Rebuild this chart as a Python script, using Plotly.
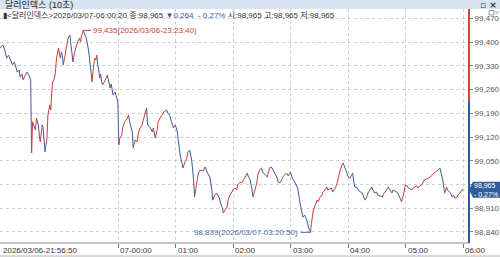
import plotly.graph_objects as go
import pandas as pd

# ---------------- data ----------------
start_time = "2026-03-06 21:56:50"
minutes = [0, 3, 5, 7, 9, 13, 15, 18, 20, 21, 23, 24, 26, 28, 30, 31, 32, 33, 34, 37, 38, 40, 41, 42, 44, 45, 46, 47, 48, 49,
           50, 52, 53, 54, 55, 57, 58, 59, 61, 63, 64, 65, 66, 67, 68, 69, 70, 71, 73, 74, 75, 76, 77, 78, 79, 80, 81, 83, 84, 85,
           86.8333, 88, 90, 92, 93, 94, 95, 96, 97, 98, 99, 100, 101, 102, 103, 104, 105, 106, 107, 110, 112, 113, 115, 116, 118,
           120, 122, 123, 124, 125, 127, 128, 130, 133, 134, 136, 138, 139, 141, 143, 144, 146, 148, 149, 151, 153, 154, 157, 159,
           160, 162, 164, 165, 167, 169, 171, 174, 175, 177, 179, 181, 183, 185, 186, 188, 191, 193, 195, 196, 198, 199, 200, 202,
           203, 205, 207, 209, 212, 214, 216, 219, 221, 222, 224, 226, 229, 230, 232, 233, 235, 237, 238, 240, 242, 243, 245, 247,
           248, 250, 253, 254, 256, 258, 259, 261, 263, 264, 266, 268, 269, 271, 273, 274, 277, 279, 280, 282, 284, 285, 287, 289,
           290, 292, 294, 295, 297, 299, 301, 303, 305, 306, 308, 310, 311, 313, 315, 316, 318, 320, 321, 322, 323, 324, 325, 327,
           329, 331, 332, 334, 336, 337, 339, 341, 342, 344, 346, 347, 350, 352, 353, 355, 357, 358, 360, 362, 363, 365, 367, 368,
           370, 373, 374, 376, 378, 380, 381, 383, 384, 386, 388, 389, 391, 393, 394, 397, 399, 400, 402, 404, 405, 407, 409, 410,
           412, 414, 415, 417, 419, 421, 423, 425, 426, 428, 430, 431, 433, 435, 436, 438, 440, 441, 443, 446, 447, 449, 451, 452,
           454, 456, 457, 459, 460, 462, 464, 466, 467, 470, 472, 473, 475, 477, 478, 480, 482, 483.5]
prices = [99.383, 99.392, 99.377, 99.353, 99.362, 99.333, 99.342, 99.312, 99.318, 99.297, 99.306, 99.289, 99.300, 99.312, 99.303,
          99.297, 99.289, 99.073, 99.165, 99.141, 99.176, 99.156, 99.126, 99.106, 99.156, 99.147, 99.112, 99.076, 99.097, 99.117,
          99.185, 99.215, 99.200, 99.253, 99.283, 99.294, 99.318, 99.353, 99.383, 99.353, 99.371, 99.362, 99.333, 99.348, 99.362,
          99.383, 99.392, 99.412, 99.421, 99.392, 99.371, 99.342, 99.356, 99.371, 99.383, 99.392, 99.401, 99.412, 99.401, 99.418,
          99.435, 99.427, 99.412, 99.383, 99.362, 99.333, 99.312, 99.283, 99.312, 99.336, 99.353, 99.348, 99.362, 99.333, 99.318,
          99.294, 99.306, 99.283, 99.274, 99.289, 99.303, 99.289, 99.265, 99.277, 99.244, 99.253, 99.235, 99.224, 99.097, 99.117,
          99.126, 99.147, 99.165, 99.176, 99.185, 99.156, 99.135, 99.088, 99.112, 99.106, 99.126, 99.147, 99.153, 99.165, 99.185,
          99.206, 99.156, 99.147, 99.135, 99.147, 99.117, 99.141, 99.165, 99.176, 99.185, 99.194, 99.200, 99.191, 99.185, 99.165,
          99.147, 99.156, 99.135, 99.112, 99.067, 99.029, 99.047, 99.058, 99.076, 99.082, 99.067, 99.053, 98.994, 98.943, 98.979,
          99.014, 99.023, 99.020, 99.032, 99.017, 99.002, 98.964, 98.934, 98.949, 98.955, 98.940, 98.926, 98.911, 98.896, 98.905,
          98.914, 98.934, 98.949, 98.958, 98.964, 98.970, 98.964, 98.979, 98.985, 98.988, 98.994, 99.002, 99.014, 99.005, 98.994,
          98.964, 98.943, 98.964, 98.985, 99.008, 99.023, 99.029, 99.017, 99.008, 99.002, 99.017, 99.032, 99.029, 99.023, 99.011,
          99.002, 98.988, 98.985, 98.994, 99.002, 99.008, 99.014, 99.005, 99.017, 98.999, 98.994, 98.985, 98.973, 98.964, 98.926,
          98.899, 98.884, 98.890, 98.875, 98.866, 98.852, 98.845, 98.839, 98.866, 98.905, 98.920, 98.934, 98.929, 98.943, 98.949,
          98.958, 98.964, 98.973, 98.964, 98.967, 98.970, 98.958, 98.970, 98.985, 98.999, 99.023, 99.038, 99.044, 99.029, 99.014,
          99.005, 98.999, 99.008, 99.014, 98.973, 98.970, 98.964, 98.958, 98.955, 98.940, 98.934, 98.946, 98.955, 98.964, 98.973,
          98.964, 98.955, 98.958, 98.949, 98.946, 98.943, 98.952, 98.958, 98.967, 98.973, 98.964, 98.955, 98.964, 98.961, 98.958,
          98.955, 98.943, 98.929, 98.949, 98.979, 98.976, 98.970, 98.967, 98.964, 98.970, 98.973, 98.976, 98.970, 98.976, 98.979,
          98.985, 98.994, 98.997, 98.999, 99.002, 99.008, 99.011, 99.017, 99.020, 99.023, 99.029, 99.017, 98.994, 98.955, 98.973,
          98.964, 98.955, 98.943, 98.949, 98.940, 98.943, 98.949, 98.955, 98.964, 98.965]
prev_close = 99.229
y_ticks = [98.840, 98.910, 98.980, 99.050, 99.120, 99.190, 99.260, 99.330, 99.400, 99.470]
y_tick_labels = ["98,840", "98,910", "", "99,050", "99,120", "99,190", "99,260", "99,330", "99,400", "99,470"]
x_tick_times = ["2026-03-07 00:00:00", "2026-03-07 01:00:00", "2026-03-07 02:00:00", "2026-03-07 03:00:00",
                "2026-03-07 04:00:00", "2026-03-07 05:00:00", "2026-03-07 06:00:00"]
x_tick_labels = ["07-00:00", "01:00", "02:00", "03:00", "04:00", "05:00", "06:00"]
first_label = "2026/03/06-21:56:50"
title_text = "달러인덱스 (10초)"
name_text = "달러인덱스"
x_end = "2026-03-07 06:06:14"

# ---------------- build ----------------
W, H = 500, 257
t0 = pd.Timestamp(start_time)
times = (t0 + pd.to_timedelta(minutes, unit="min")).round("10s")

RED = "#cf3b3b"
BLUE = "#3b5b9c"

up_x, up_y, dn_x, dn_y = [], [], [], []
for i in range(1, len(prices)):
    if prices[i] >= prices[i - 1]:
        up_x += [times[i - 1], times[i], None]
        up_y += [prices[i - 1], prices[i], None]
    else:
        dn_x += [times[i - 1], times[i], None]
        dn_y += [prices[i - 1], prices[i], None]

fig = go.Figure()
fig.add_trace(go.Scatter(x=dn_x, y=dn_y, mode="lines", line=dict(color=BLUE, width=1), hoverinfo="skip"))
fig.add_trace(go.Scatter(x=up_x, y=up_y, mode="lines", line=dict(color=RED, width=1), hoverinfo="skip"))


def px_x(x):
    return x / W


def px_y(y):
    return 1 - y / H


plot_right = 469
plot_top = 9
plot_bottom = 243
# y mapping: price = 99.5246 - 0.002951 * pixel_y
y_lo = 99.5246 - 0.002951 * plot_bottom
y_hi = 99.5246 - 0.002951 * plot_top

FONT = "Liberation Sans Narrow, Liberation Sans, Noto Sans CJK KR"

fig.update_layout(
    width=W, height=H, margin=dict(l=0, r=0, t=0, b=0),
    paper_bgcolor="white", plot_bgcolor="white", showlegend=False,
    xaxis=dict(type="date", domain=[0, px_x(plot_right)], range=[t0, pd.Timestamp(x_end)],
               tickvals=x_tick_times, showticklabels=False, ticks="outside", ticklen=4, tickcolor="#777",
               showgrid=True, gridcolor="#cfcfcf", griddash="dot", gridwidth=1,
               zeroline=False, showline=False, fixedrange=True),
    yaxis=dict(domain=[px_y(plot_bottom), px_y(plot_top)], range=[y_lo, y_hi], side="right",
               tickvals=y_ticks, ticktext=y_tick_labels, ticks="outside", ticklen=3, tickcolor="#888",
               tickfont=dict(size=8, color="#555", family=FONT),
               showgrid=True, gridcolor="#cfcfcf", griddash="dot", gridwidth=1,
               zeroline=False, showline=False, fixedrange=True),
)

shapes = []
# title bar
shapes.append(dict(type="rect", xref="paper", yref="paper", x0=0, x1=1, y0=px_y(9), y1=1,
                   fillcolor="#d7e5f3", line=dict(width=0), layer="above"))
# bottom axis strip borders
shapes.append(dict(type="line", xref="paper", yref="paper", x0=0, x1=px_x(plot_right), y0=px_y(plot_bottom),
                   y1=px_y(plot_bottom), line=dict(color="#8a8a8a", width=1)))
shapes.append(dict(type="line", xref="paper", yref="paper", x0=0, x1=1, y0=px_y(256), y1=px_y(256),
                   line=dict(color="#b0b0b0", width=1)))
# right axis line: red above previous close, blue below
shapes.append(dict(type="line", xref="paper", yref="y", x0=px_x(plot_right), x1=px_x(plot_right), y0=prev_close, y1=y_hi,
                   line=dict(color="#d9403a", width=2), layer="above"))
shapes.append(dict(type="line", xref="paper", yref="y", x0=px_x(plot_right), x1=px_x(plot_right), y0=y_lo, y1=prev_close,
                   line=dict(color="#2f5a9e", width=2), layer="above"))
# current price tag
last_p = prices[-1]
dp_half = 0.002951 * 8
path = (f"M {px_x(plot_right)},{last_p} L {px_x(473)},{last_p + dp_half} L 1,{last_p + dp_half} "
        f"L 1,{last_p - dp_half} L {px_x(473)},{last_p - dp_half} Z")
shapes.append(dict(type="path", xref="paper", yref="y", path=path, fillcolor="#2f5d9e",
                   line=dict(width=0), layer="above"))
# small window icon under the title bar (drawn as shapes)
shapes.append(dict(type="rect", xref="paper", yref="paper", x0=px_x(489), x1=px_x(494), y0=px_y(15), y1=px_y(10.5),
                   fillcolor="white", line=dict(color="#9a9a9a", width=1), layer="above"))
shapes.append(dict(type="line", xref="paper", yref="paper", x0=px_x(495.5), x1=px_x(498.5), y0=px_y(11), y1=px_y(14),
                   line=dict(color="#b0b0b0", width=1), layer="above"))
shapes.append(dict(type="line", xref="paper", yref="paper", x0=px_x(495.5), x1=px_x(498.5), y0=px_y(14), y1=px_y(11),
                   line=dict(color="#b0b0b0", width=1), layer="above"))
fig.update_layout(shapes=shapes)

ann = []
# title
ann.append(dict(xref="paper", yref="paper", x=px_x(3), y=px_y(4.5), xanchor="left", yanchor="middle",
                text=title_text, showarrow=False, font=dict(size=9, color="#222", family=FONT)))
ann.append(dict(xref="paper", yref="paper", x=px_x(499), y=px_y(4.5), xanchor="right", yanchor="middle",
                text="<b>▫ ×</b>", showarrow=False, font=dict(size=9, color="#333", family="DejaVu Sans")))
# info line
last_t = times[-1]
chg = last_p - prev_close
pct = chg / prev_close * 100
fmt = lambda v: f"{v:.3f}".replace(".", ",")
arrow = "▼" if chg < 0 else "▲"
pct_txt = f"{abs(pct):.2f}".replace(".", ",")
info = (f"▮&lt;{name_text}&gt;{last_t.strftime('%Y/%m/%d-%H:%M:%S')} 종:{fmt(last_p)} "
        f"<span style='color:#2f5aa8'>{arrow}{fmt(abs(chg))}  - {pct_txt}%</span> "
        f"시:{fmt(last_p)} 고:{fmt(last_p)} 저:{fmt(last_p)}")
ann.append(dict(xref="paper", yref="paper", x=px_x(1), y=px_y(14.5), xanchor="left", yanchor="middle",
                text=info, showarrow=False, font=dict(size=8, color="#333", family=FONT)))
# x tick labels
ann.append(dict(xref="paper", yref="paper", x=px_x(1), y=px_y(250), xanchor="left", yanchor="middle",
                text=first_label, showarrow=False, font=dict(size=8, color="#333", family=FONT)))
for tv, tl in zip(x_tick_times, x_tick_labels):
    ann.append(dict(xref="x", yref="paper", x=tv, y=px_y(250), xanchor="left", yanchor="middle",
                    text=tl, showarrow=False, font=dict(size=8, color="#333", family=FONT)))
# max / min markers
imax = max(range(len(prices)), key=lambda i: prices[i])
imin = min(range(len(prices)), key=lambda i: prices[i])
ann.append(dict(x=times[imax], y=prices[imax], xref="x", yref="y", ax=8, ay=0, xanchor="left", yanchor="middle",
                text=f"{fmt(prices[imax])}({times[imax].strftime('%Y/%m/%d-%H:%M:%S')})", showarrow=True,
                arrowhead=0, arrowwidth=1, arrowcolor="#c8443c", font=dict(size=8, color="#c8443c", family=FONT)))
ann.append(dict(x=times[imin], y=prices[imin], xref="x", yref="y", ax=-10, ay=0, xanchor="right", yanchor="middle",
                text=f"{fmt(prices[imin])}({times[imin].strftime('%Y/%m/%d-%H:%M:%S')})", showarrow=True,
                arrowhead=0, arrowwidth=1, arrowcolor="#4a68a8", font=dict(size=8, color="#4a68a8", family=FONT)))
# current price tag text
ann.append(dict(xref="paper", yref="y", x=px_x(473), y=last_p, xanchor="left", yanchor="middle",
                text=f"{fmt(last_p)}<br>- {pct_txt}%", showarrow=False, align="left", borderpad=0,
                font=dict(size=7, color="white", family=FONT)))
fig.update_layout(annotations=ann)

fig.write_html("out.html")
